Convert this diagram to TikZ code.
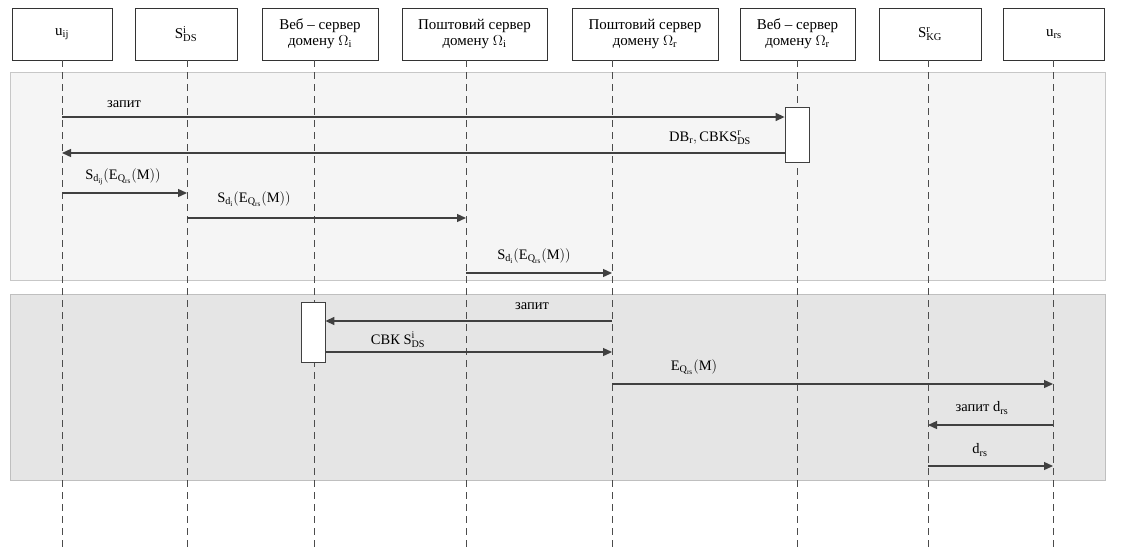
\documentclass[tikz,border=0pt]{standalone}
\usepackage{fontspec}
\setmainfont{Liberation Serif}
\usetikzlibrary{positioning,arrows.meta}
\newcommand{\rmx}[1]{\mathrm{#1}}
\tikzset {
    actor/.style={
        draw=black!80,
        thick,
        fill=white,
        rectangle, % header box of a participant
        minimum height=52pt,
        align=center,
        font=\fontsize{15}{16}\selectfont,
    },
    lifeline/.style={
        draw=black!70,
        line width=1pt,
        dash pattern=on 7pt off 5pt,
    },
    msg/.style={
        draw=black!75,
        line width=1.3pt,
        -{Triangle[length=9pt,width=8pt]},
    },
    activation/.style={
        draw=black!75,
        thick,
        fill=white,
        rectangle,
        minimum width=24pt,
    },
    lbl/.style={
        font=\fontsize{14.5}{16}\selectfont,
        inner sep=1pt,
    },
    band A/.style={fill=black!4, draw=black!22, thick},
    band B/.style={fill=black!10, draw=black!25, thick},
}
\begin{document}
\begin{tikzpicture}[x=1pt, y=-1pt]
        \useasboundingbox (0,0) rectangle (1136,550);

        % two phases
        \draw[band A] (10,72) rectangle (1105,280);
        \draw[band B] (10,294) rectangle (1105,480);

        % participants
        \node[actor, minimum width=100pt] at (62,34) (uij) {$\rmx{u}_{\rmx{ij}}$};
        \node[actor, minimum width=102pt] at (186,34) (sds) {$\rmx{S}^{\rmx{i}}_{\rmx{DS}}$};
        \node[actor, minimum width=116pt] at (320,34) (webI) {Веб – сервер\\домену $\Omega_{\rmx{i}}$};
        \node[actor, minimum width=145pt] at (474.5,34) (mailI) {Поштовий сервер\\домену $\Omega_{\rmx{i}}$};
        \node[actor, minimum width=146pt] at (645,34) (mailR) {Поштовий сервер\\домену $\Omega_{\rmx{r}}$};
        \node[actor, minimum width=115pt] at (797.5,34) (webR) {Веб – сервер\\домену $\Omega_{\rmx{r}}$};
        \node[actor, minimum width=102pt] at (930,34) (skg) {$\rmx{S}^{\rmx{r}}_{\rmx{KG}}$};
        \node[actor, minimum width=101pt] at (1054,34) (urs) {$\rmx{u}_{\rmx{rs}}$};

        % lifelines
        \coordinate (bottom) at (0,550);
        \coordinate (uijL) at (62,60);
        \coordinate (sdsL) at (187,60);
        \coordinate (webIL) at (314,60);
        \coordinate (mailIL) at (466,60);
        \coordinate (mailRL) at (612,60);
        \coordinate (webRL) at (797,60);
        \coordinate (skgL) at (928,60);
        \coordinate (ursL) at (1053,60);
        \foreach \p in {uijL,sdsL,webIL,mailIL,mailRL,webRL,skgL,ursL}
            \draw[lifeline] (\p) -- (\p |- bottom);

        \node[activation, minimum height=55pt] at (797,134.5) (actR) {};
        \node[activation, minimum height=60pt] at (313,332) (actI) {};

        % message levels
        \coordinate (y1) at (0,117);
        \coordinate (y2) at (0,153);
        \coordinate (y3) at (0,193);
        \coordinate (y4) at (0,218);
        \coordinate (y5) at (0,273);
        \coordinate (y6) at (0,321);
        \coordinate (y7) at (0,352);
        \coordinate (y8) at (0,384);
        \coordinate (y9) at (0,425);
        \coordinate (y10) at (0,466);

        \draw[msg] (uijL |- y1) -- (actR.west |- y1);
        \draw[msg] (actR.west |- y2) -- (uijL |- y2);
        \draw[msg] (uijL |- y3) -- (sdsL |- y3);
        \draw[msg] (sdsL |- y4) -- (mailIL |- y4);
        \draw[msg] (mailIL |- y5) -- (mailRL |- y5);
        \draw[msg] (mailRL |- y6) -- (actI.east |- y6);
        \draw[msg] (actI.east |- y7) -- (mailRL |- y7);
        \draw[msg] (mailRL |- y8) -- (ursL |- y8);
        \draw[msg] (ursL |- y9) -- (skgL |- y9);
        \draw[msg] (skgL |- y10) -- (ursL |- y10);

        \node[lbl] at (124,104) (l1) {запит};
        \node[lbl] at (710,138) (l2) {$\rmx{DB}_{\rmx{r}}, \rmx{CBKS}^{\rmx{r}}_{\rmx{DS}}$};
        \node[lbl] at (123,177) (l3) {$\rmx{S}_{\rmx{d}_{\rmx{ij}}}(\rmx{E}_{\rmx{Q}_{\rmx{rs}}}(\rmx{M}))$};
        \node[lbl] at (254,199) (l4) {$\rmx{S}_{\rmx{d}_{\rmx{i}}}(\rmx{E}_{\rmx{Q}_{\rmx{rs}}}(\rmx{M}))$};
        \node[lbl] at (534,256) (l5) {$\rmx{S}_{\rmx{d}_{\rmx{i}}}(\rmx{E}_{\rmx{Q}_{\rmx{rs}}}(\rmx{M}))$};
        \node[lbl] at (532,306) (l6) {запит};
        \node[lbl] at (398,340) (l7) {СВК $\rmx{S}^{\rmx{i}}_{\rmx{DS}}$};
        \node[lbl] at (694,367) (l8) {$\rmx{E}_{\rmx{Q}_{\rmx{rs}}}(\rmx{M})$};
        \node[lbl] at (982,408) (l9) {запит $\rmx{d}_{\rmx{rs}}$};
        \node[lbl] at (980,450) (l10) {$\rmx{d}_{\rmx{rs}}$};
\end{tikzpicture}
\end{document}
